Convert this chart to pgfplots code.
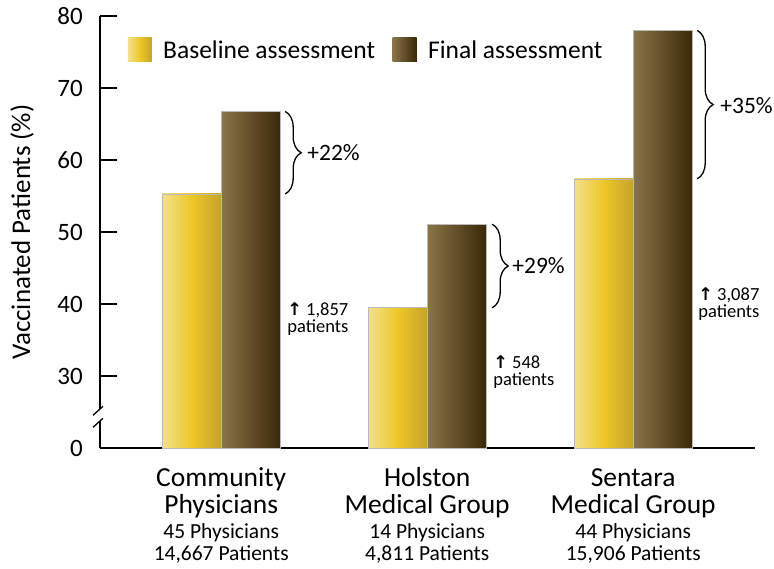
\documentclass[border=0pt]{standalone}
\usepackage{fontspec}
\setmainfont{Carlito}
\newfontfamily\arrowfont{DejaVu Sans}
\usepackage{pgfplots}
\pgfplotsset{compat=1.18}
\usetikzlibrary{decorations.pathreplacing}

\definecolor{baseL}{HTML}{F3E08E}
\definecolor{baseM}{HTML}{EDC726}
\definecolor{baseR}{HTML}{C6A22C}
\definecolor{finL}{HTML}{8A7548}
\definecolor{finR}{HTML}{3A2807}

\newcommand{\catname}[1]{{\fontsize{27.5}{28}\selectfont #1}}
\newcommand{\catinfo}[1]{{\fontsize{21.5}{22}\selectfont #1}}
% four centred lines with fixed baseline distances
\newcommand{\catlabel}[4]{\vtop{\baselineskip=0pt\lineskiplimit=-\maxdimen
  \halign{\hfil##\hfil\cr
  \catname{#1}\cr\noalign{\kern27pt}%
  \catname{#2}\cr\noalign{\kern25pt}%
  \catinfo{#3}\cr\noalign{\kern22pt}%
  \catinfo{#4}\cr}}}

\pgfplotsset{
  basebar/.style={ybar, bar shift=-29.5pt, draw=gray!55, line width=0.6pt,
    left color=baseL, right color=baseR, middle color=baseM},
  finalbar/.style={ybar, bar shift=29.5pt, draw=gray!55, line width=0.6pt,
    left color=finL, right color=finR},
}

\begin{document}
\begin{tikzpicture}
\useasboundingbox (-100pt,-120.7pt) rectangle (674pt,448.3pt);
\begin{axis}[
  scale only axis, width=655pt, height=432.3pt,
  at={(0,0)}, anchor=south west,
  xmin=-0.5883, xmax=2.5913, ymin=20, ymax=80,
  axis lines=left,
  axis line style={-, line width=2pt, black},
  clip mode=individual,
  ytick={20,30,40,50,60,70,80},
  yticklabels={0,30,40,50,60,70,80},
  tick align=inside, major tick length=17pt,
  ytick style={line width=2pt, black},
  yticklabel style={font=\fontsize{25}{30}\selectfont, inner sep=0pt, xshift=-17pt},
  xtick={0,1,2}, xticklabels={},
  xtick style={draw=none},
  ylabel={Vaccinated Patients (\%)},
  ylabel style={at={(axis description cs:-0.119,0.5)}, anchor=center, font=\fontsize{27}{32}\selectfont},
  ybar, bar width=59pt,
]
% baseline assessment, one bar per plot so each bar gets its own shading
\addplot[basebar] coordinates {(0,55.3)};
\addplot[basebar] coordinates {(1,39.5)};
\addplot[basebar] coordinates {(2,57.4)};
% final assessment
\addplot[finalbar] coordinates {(0,66.75)};
\addplot[finalbar] coordinates {(1,51.1)};
\addplot[finalbar] coordinates {(2,78.0)};

% category labels
\node[anchor=base, inner sep=0pt, yshift=-38pt] at (axis cs:0,20)
  {\catlabel{Community}{Physicians}{45 Physicians}{14,667 Patients}};
\node[anchor=base, inner sep=0pt, yshift=-38pt] at (axis cs:1,20)
  {\catlabel{Holston}{Medical Group}{14 Physicians}{4,811 Patients}};
\node[anchor=base, inner sep=0pt, yshift=-38pt] at (axis cs:2,20)
  {\catlabel{Sentara}{Medical Group}{44 Physicians}{15,906 Patients}};

% braces and changes
\draw[decorate, decoration={brace, amplitude=16pt}, line width=1.3pt]
  ([xshift=64pt]axis cs:0,66.75) -- ([xshift=64pt]axis cs:0,55.3);
\draw[decorate, decoration={brace, amplitude=16pt}, line width=1.3pt]
  ([xshift=65pt]axis cs:1,51.1) -- ([xshift=65pt]axis cs:1,39.5);
\draw[decorate, decoration={brace, amplitude=16pt}, line width=1.3pt]
  ([xshift=64pt]axis cs:2,78.0) -- ([xshift=64pt]axis cs:2,57.4);
\node[anchor=west, inner sep=0pt, font=\fontsize{23.5}{28}\selectfont]
  at ([xshift=86pt]axis cs:0,61.0) {+22\%};
\node[anchor=west, inner sep=0pt, font=\fontsize{23.5}{28}\selectfont]
  at ([xshift=85pt]axis cs:1,45.3) {+29\%};
\node[anchor=west, inner sep=0pt, font=\fontsize{23.5}{28}\selectfont]
  at ([xshift=87pt]axis cs:2,67.5) {+35\%};

% patient counts
\node[anchor=north west, align=left, inner sep=0pt, font=\fontsize{18.5}{17}\selectfont]
  at ([xshift=66pt]axis cs:0,40.3) {{\arrowfont\bfseries\fontsize{17.5}{17}\selectfont ↑} 1,857\\patients};
\node[anchor=north west, align=left, inner sep=0pt, font=\fontsize{18.5}{17}\selectfont]
  at ([xshift=66pt]axis cs:1,32.9) {{\arrowfont\bfseries\fontsize{17.5}{17}\selectfont ↑} 548\\patients};
\node[anchor=north west, align=left, inner sep=0pt, font=\fontsize{18.5}{17}\selectfont]
  at ([xshift=65pt]axis cs:2,42.3) {{\arrowfont\bfseries\fontsize{17.5}{17}\selectfont ↑} 3,087\\patients};
\end{axis}

% axis break
\fill[white] (-7pt,21pt) -- (3pt,30pt) -- (3pt,42pt) -- (-7pt,33pt) -- cycle;
\draw[line width=1.3pt] (-7pt,21pt) -- (3pt,30pt);
\draw[line width=1.3pt] (-7pt,33pt) -- (3pt,42pt);

% legend
\fill[left color=baseL, right color=baseR, middle color=baseM] (28pt,386.3pt) rectangle (52pt,410.3pt);
\node[anchor=west, inner sep=0pt, font=\fontsize{25.5}{30}\selectfont] at (63pt,398.3pt) {Baseline assessment};
\fill[left color=finL, right color=finR] (292.7pt,386.3pt) rectangle (316.7pt,410.3pt);
\node[anchor=west, inner sep=0pt, font=\fontsize{25.5}{30}\selectfont] at (328pt,398.3pt) {Final assessment};
\end{tikzpicture}
\end{document}
